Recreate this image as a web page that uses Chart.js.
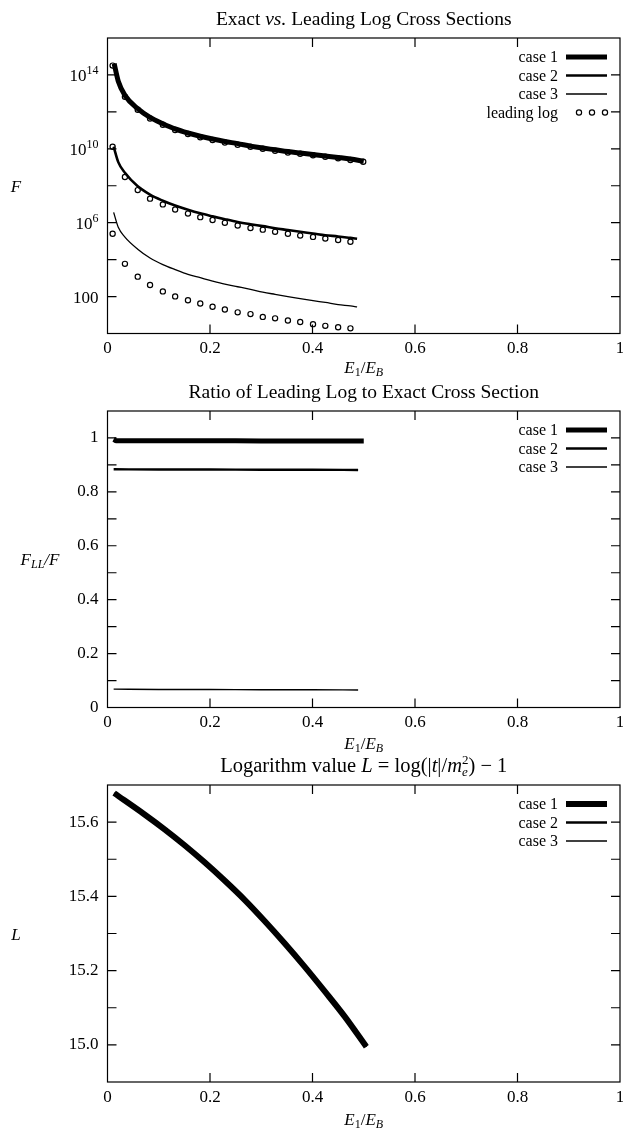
<!DOCTYPE html>
<html>
<head>
<meta charset="utf-8">
<script src="https://cdn.jsdelivr.net/npm/chart.js@4.4.0/dist/chart.umd.min.js"></script>
<style>
  body { margin: 0; background: #fff; }
  .panel { position: absolute; left: 0; width: 623px; height: 376px; }
</style>
</head>
<body>
<div class="panel" style="top:0"><canvas id="c1" width="623" height="376"></canvas></div>
<div class="panel" style="top:376px"><canvas id="c2" width="623" height="376"></canvas></div>
<div class="panel" style="top:752px"><canvas id="c3" width="623" height="376"></canvas></div>
<script>
// values
var caseLabels = ['case 1', 'case 2', 'case 3'];
var llLabel = 'leading log';

var xTicks = [0, 0.2, 0.4, 0.6, 0.8, 1];
var xTickLabels = ['0', '0.2', '0.4', '0.6', '0.8', '1'];

// top panel: F (log scale)
var xExact1 = [0.013, 0.021, 0.034, 0.059, 0.083, 0.108, 0.132, 0.157, 0.181, 0.205, 0.229,
               0.254, 0.279, 0.303, 0.327, 0.352, 0.376, 0.401, 0.425, 0.450, 0.474, 0.500];
var xExact23 = [0.012, 0.021, 0.034, 0.059, 0.083, 0.108, 0.132, 0.157, 0.181, 0.205, 0.229,
                0.254, 0.279, 0.303, 0.327, 0.352, 0.376, 0.401, 0.425, 0.450, 0.474, 0.487];
var fCase1 = [4.1e14, 4.6e13, 7.9e12, 1.5e12, 5.0e11, 2.3e11, 1.2e11, 7.2e10, 4.8e10, 3.4e10, 2.5e10,
              1.9e10, 1.4e10, 1.1e10, 8.9e9, 7.1e9, 5.9e9, 4.9e9, 4.1e9, 3.4e9, 2.8e9, 2.1e9];
var fCase2 = [1.3e10, 1.9e9, 5.0e8, 9.3e7, 3.3e7, 1.55e7, 8.5e6, 5.0e6, 3.2e6, 2.2e6, 1.55e6,
              1.1e6, 8.3e5, 6.5e5, 5.0e5, 4.0e5, 3.2e5, 2.6e5, 2.1e5, 1.8e5, 1.5e5, 1.35e5];
var fCase3 = [3.6e6, 5.6e5, 1.66e5, 3.7e4, 1.23e4, 5.4e3, 2.9e3, 1.6e3, 1.05e3, 690, 470,
              340, 245, 174, 132, 100, 78, 60, 48, 37, 31, 27.5];
var xLL = [0.010, 0.034, 0.059, 0.083, 0.108, 0.132, 0.157, 0.181, 0.205, 0.229, 0.254,
           0.279, 0.303, 0.327, 0.352, 0.376, 0.401, 0.425, 0.450, 0.474, 0.499];
var llCase1 = [3.2e14, 6.6e12, 1.3e12, 4.4e11, 2.0e11, 1.05e11, 6.3e10, 4.2e10, 3.0e10, 2.2e10, 1.66e10,
               1.29e10, 1.0e10, 7.9e9, 6.3e9, 5.4e9, 4.5e9, 3.7e9, 3.1e9, 2.5e9, 2.0e9];
var llCase2 = [1.3e10, 3.0e8, 5.8e7, 2.0e7, 9.8e6, 5.2e6, 3.1e6, 2.0e6, 1.4e6, 9.8e5, 7.1e5,
               5.2e5, 4.2e5, 3.2e5, 2.5e5, 2.0e5, 1.7e5, 1.4e5, 1.15e5, 9.3e4];
var llCase3 = [2.5e5, 5.9e3, 1.2e3, 420, 190, 102, 63, 42, 28, 20, 14,
               11.2, 7.9, 6.6, 5.1, 4.2, 3.2, 2.6, 2.2, 1.9];
var fTicks = [1e2, 1e4, 1e6, 1e8, 1e10, 1e12, 1e14];
var fTickLabels = ['100', '', '10^6', '', '10^10', '', '10^14'];

// middle panel: ratio F_LL / F
var xRatio1 = [0.012, 0.017, 0.1, 0.2, 0.3, 0.4, 0.5];
var ratio1 = [0.995, 0.990, 0.990, 0.990, 0.989, 0.989, 0.989];
var xRatio23 = [0.012, 0.1, 0.2, 0.3, 0.4, 0.489];
var ratio2 = [0.884, 0.883, 0.883, 0.882, 0.882, 0.881];
var ratio3 = [0.068, 0.067, 0.067, 0.066, 0.066, 0.065];
var ratioTicks = [0, 0.1, 0.2, 0.3, 0.4, 0.5, 0.6, 0.7, 0.8, 0.9, 1.0];
var ratioTickLabels = ['0', '', '0.2', '', '0.4', '', '0.6', '', '0.8', '', '1'];

// bottom panel: L
var xL = [0.013, 0.073, 0.112, 0.151, 0.190, 0.229, 0.268, 0.307, 0.346, 0.385, 0.424, 0.463, 0.505];
var lCase = [15.678, 15.620, 15.580, 15.537, 15.491, 15.442, 15.390, 15.333, 15.273, 15.210, 15.144, 15.076, 14.995];
var lTicks = [15.0, 15.1, 15.2, 15.3, 15.4, 15.5, 15.6];
var lTickLabels = ['15.0', '', '15.2', '', '15.4', '', '15.6'];

var SERIF = '"Liberation Serif", "DejaVu Serif", serif';
var NO_PAD = function () { return { left: 0, top: 0, right: 0, bottom: 0 }; };

function pts(xs, ys) {
  return ys.map(function (y, i) { return { x: xs[i], y: y }; });
}

function lineSet(label, xs, ys, width) {
  return {
    label: label, data: pts(xs, ys), borderColor: '#000', backgroundColor: '#000',
    borderWidth: width, pointRadius: 0, pointHoverRadius: 0, fill: false, borderJoinStyle: 'round',
    cubicInterpolationMode: 'monotone', keyType: 'line'
  };
}

function circleSet(label, xs, ys, inKey) {
  return {
    label: label, data: pts(xs, ys), showLine: false, borderColor: '#000', backgroundColor: '#fff',
    pointRadius: 2.6, pointHoverRadius: 2.6, pointBorderWidth: 1.2, pointStyle: 'circle',
    keyType: inKey ? 'circle' : null
  };
}

function font(r) {
  return (r[1] ? 'italic ' : '') + r[2] + 'px ' + SERIF;
}

// runs: [text, italic, size, baseline shift, no advance]
function drawRich(ctx, runs, x, y, align) {
  var total = 0;
  runs.forEach(function (r) {
    ctx.font = font(r);
    r.w = ctx.measureText(r[0]).width;
    if (!r[4]) total += r.w;
  });
  var cx = align === 'center' ? x - total / 2 : (align === 'right' ? x - total : x);
  ctx.textAlign = 'left';
  ctx.textBaseline = 'alphabetic';
  runs.forEach(function (r) {
    ctx.font = font(r);
    ctx.fillText(r[0], cx, y + r[3]);
    if (!r[4]) cx += r.w;
  });
}

var framePlugin = {
  id: 'frame',
  afterDatasetsDraw: function (chart) {
    var a = chart.chartArea, ctx = chart.ctx, sx = chart.scales.x, sy = chart.scales.y;
    ctx.save();
    ctx.strokeStyle = '#000';
    ctx.lineWidth = 1.2;
    ctx.beginPath();
    sx.ticks.forEach(function (t) {
      var p = sx.getPixelForValue(t.value);
      if (p <= a.left + 1 || p >= a.right - 1) return;
      ctx.moveTo(p, a.bottom); ctx.lineTo(p, a.bottom - 9);
      ctx.moveTo(p, a.top); ctx.lineTo(p, a.top + 9);
    });
    sy.ticks.forEach(function (t) {
      var p = sy.getPixelForValue(t.value);
      if (p <= a.top + 1 || p >= a.bottom - 1) return;
      ctx.moveTo(a.left, p); ctx.lineTo(a.left + 9, p);
      ctx.moveTo(a.right, p); ctx.lineTo(a.right - 9, p);
    });
    ctx.stroke();
    ctx.strokeRect(a.left, a.top, a.right - a.left, a.bottom - a.top);
    ctx.restore();
  }
};

function textPlugin(cfg) {
  return {
    id: 'texts',
    afterDraw: function (chart) {
      var a = chart.chartArea, ctx = chart.ctx, sy = chart.scales.y;
      var cx = (a.left + a.right) / 2, cy = (a.top + a.bottom) / 2;
      ctx.save();
      ctx.fillStyle = '#000';
      drawRich(ctx, cfg.title, cx, a.top - 13, 'center');
      drawRich(ctx, [['E', 1, 17, 0], ['1', 0, 12, 3], ['/', 0, 17, 0], ['E', 1, 17, 0], ['B', 1, 12, 3]],
               cx, 373, 'center');
      drawRich(ctx, cfg.yTitle, cfg.yTitleX, cy + 6, 'center');

      // power-of-ten tick labels: "10^14" -> 10 with raised 14
      if (cfg.richTicks) {
        sy.ticks.forEach(function (t, i) {
          var s = cfg.yTickLabels[i];
          if (!s) return;
          var parts = s.split('^');
          var runs = [[parts[0], 0, 17, 0]];
          if (parts[1]) runs.push([parts[1], 0, 12, -7]);
          drawRich(ctx, runs, a.left - 9, sy.getPixelForValue(t.value) + 6, 'right');
        });
      }

      // key, gnuplot style: text on the left, sample on the right
      var items = chart.data.datasets.filter(function (d) { return d.keyType; });
      items.forEach(function (d, i) {
        var y = a.top + 19 + 18.5 * i;
        ctx.font = '16px ' + SERIF;
        ctx.textAlign = 'right';
        ctx.textBaseline = 'middle';
        ctx.fillText(d.label, a.right - 62, y + 1);
        ctx.strokeStyle = '#000';
        if (d.keyType === 'line') {
          ctx.lineWidth = d.borderWidth;
          ctx.beginPath();
          ctx.moveTo(a.right - 54, y);
          ctx.lineTo(a.right - 13, y);
          ctx.stroke();
        } else {
          ctx.lineWidth = d.pointBorderWidth;
          [41, 28, 15].forEach(function (off) {
            ctx.beginPath();
            ctx.arc(a.right - off, y, d.pointRadius, 0, Math.PI * 2);
            ctx.stroke();
          });
        }
      });
      ctx.restore();
    }
  };
}

function makeChart(id, cfg) {
  var tickFont = { family: SERIF, size: 17 };
  var yScale = {
    type: cfg.yType, min: cfg.yMin, max: cfg.yMax,
    grid: { display: false, drawTicks: false }, border: { display: false },
    afterBuildTicks: function (s) { s.ticks = cfg.yTicks.map(function (v) { return { value: v }; }); },
    ticks: {
      autoSkip: false, padding: 9, color: '#000', font: tickFont,
      callback: function (v, i) { return cfg.richTicks ? '' : cfg.yTickLabels[i]; }
    },
    afterFit: function (s) {
      s.width = 107.5;
      s.paddingTop = s.paddingBottom = s.paddingLeft = s.paddingRight = 0;
      s.getPadding = NO_PAD;
    }
  };
  return new Chart(document.getElementById(id), {
    type: 'line',
    data: { datasets: cfg.datasets },
    options: {
      responsive: false, animation: false, devicePixelRatio: 1,
      layout: { autoPadding: false, padding: { top: cfg.top, left: 0, right: 3, bottom: 0 } },
      plugins: { legend: { display: false }, title: { display: false }, tooltip: { enabled: false } },
      scales: {
        x: {
          type: 'linear', min: 0, max: 1,
          grid: { display: false, drawTicks: false }, border: { display: false },
          afterBuildTicks: function (s) { s.ticks = xTicks.map(function (v) { return { value: v }; }); },
          ticks: {
            autoSkip: false, maxRotation: 0, padding: 5, color: '#000', font: tickFont,
            callback: function (v, i) { return xTickLabels[i]; }
          },
          afterFit: function (s) {
            s.height = 376 - cfg.bottom;
            s.paddingTop = s.paddingBottom = s.paddingLeft = s.paddingRight = 0;
            s.getPadding = NO_PAD;
          }
        },
        y: yScale
      }
    },
    plugins: [framePlugin, textPlugin(cfg)]
  });
}

makeChart('c1', {
  top: 38, bottom: 333.5, yType: 'logarithmic', yMin: 1, yMax: 1e16,
  yTicks: fTicks, yTickLabels: fTickLabels, richTicks: true,
  title: [['Exact ', 0, 19.5, 0], ['vs.', 1, 19.5, 0], [' Leading Log Cross Sections', 0, 19.5, 0]],
  yTitle: [['F', 1, 17, 0]], yTitleX: 16,
  datasets: [
    lineSet(caseLabels[0], xExact1, fCase1, 5),
    lineSet(caseLabels[1], xExact23, fCase2, 2.6),
    lineSet(caseLabels[2], xExact23, fCase3, 1.3),
    circleSet(llLabel, xLL, llCase1, true),
    circleSet(llLabel, xLL, llCase2, false),
    circleSet(llLabel, xLL, llCase3, false)
  ]
});

makeChart('c2', {
  top: 35, bottom: 331.5, yType: 'linear', yMin: 0, yMax: 1.1,
  yTicks: ratioTicks, yTickLabels: ratioTickLabels,
  title: [['Ratio of Leading Log to Exact Cross Section', 0, 19.5, 0]],
  yTitle: [['F', 1, 17, 0], ['LL', 1, 12, 3], ['/F', 1, 17, 0]], yTitleX: 40,
  datasets: [
    lineSet(caseLabels[0], xRatio1, ratio1, 5),
    lineSet(caseLabels[1], xRatio23, ratio2, 2.4),
    lineSet(caseLabels[2], xRatio23, ratio3, 1.4)
  ]
});

makeChart('c3', {
  top: 33, bottom: 330, yType: 'linear', yMin: 14.9, yMax: 15.7,
  yTicks: lTicks, yTickLabels: lTickLabels,
  title: [['Logarithm value ', 0, 20.5, 0], ['L', 1, 20.5, 0], [' = log(|', 0, 20.5, 0], ['t', 1, 20.5, 0],
          ['|/', 0, 20.5, 0], ['m', 1, 20.5, 0], ['e', 1, 13, 4, true], ['2', 0, 13, -8], [') \u2212 1', 0, 20.5, 0]],
  yTitle: [['L', 1, 17, 0]], yTitleX: 16,
  datasets: [
    lineSet(caseLabels[0], xL, lCase, 6),
    lineSet(caseLabels[1], xL, lCase, 2.6),
    lineSet(caseLabels[2], xL, lCase, 1.3)
  ]
});
</script>
</body>
</html>
